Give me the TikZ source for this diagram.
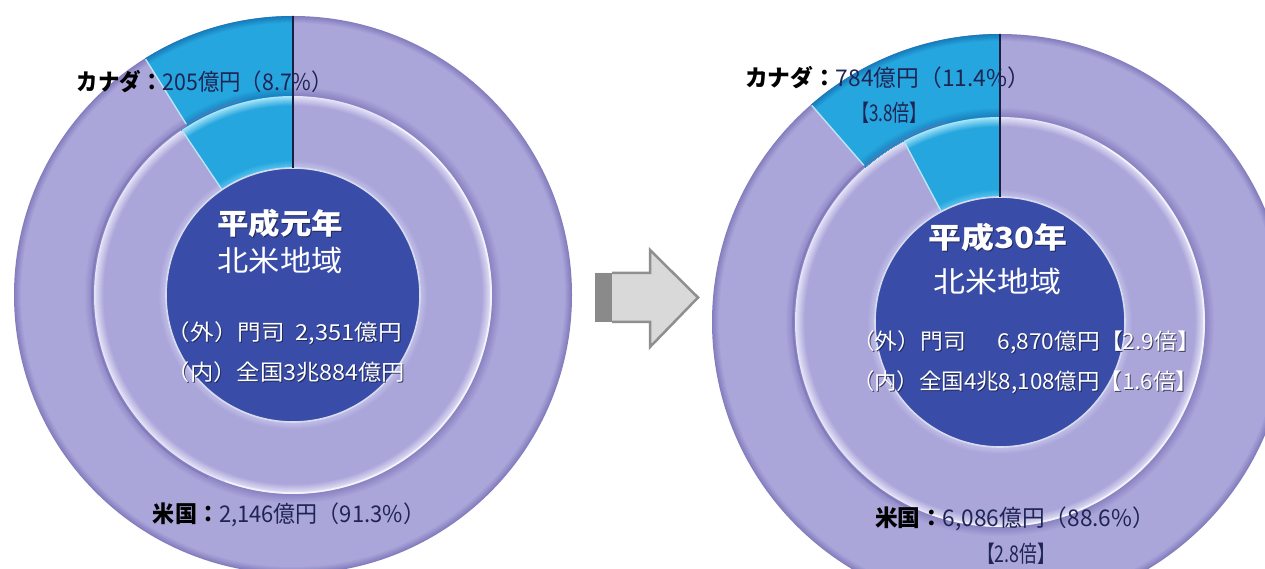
\documentclass[tikz,border=0pt]{standalone}
\usepackage{fontspec}
\usepackage{graphicx}
\newfontfamily\jp{Noto Sans CJK JP}
\usetikzlibrary{calc}
\definecolor{lav}{RGB}{170,166,218}
\definecolor{lavlight}{RGB}{196,193,234}
\definecolor{lavhi}{RGB}{228,227,247}
\definecolor{lavdark}{RGB}{118,112,180}
\definecolor{cy}{RGB}{38,166,222}
\definecolor{cylight}{RGB}{90,198,240}
\definecolor{cyhi}{RGB}{165,228,249}
\definecolor{cydark}{RGB}{18,108,176}
\definecolor{blueC}{RGB}{57,77,168}
\definecolor{navy}{RGB}{26,30,64}
\definecolor{txtnavy}{RGB}{32,36,84}
\definecolor{arrfill}{RGB}{217,217,217}
\definecolor{arrline}{RGB}{143,143,143}
\definecolor{arrdark}{RGB}{138,138,138}
\newcommand{\fitw}[2]{\resizebox{#1}{\height}{#2}}
% bevelled double ring: #1 colour prefix, #2 centre, #3 R1, #4 R2, #5 R3
\newcommand{\ringbands}[5]{%
  \foreach \k in {0,...,7}{\pgfmathsetmacro\p{25+75*\k/7}\fill[#1!\p!#1dark] (#2) circle[radius=#3-\k];}
  \foreach \k in {10,9,...,0}{\pgfmathsetmacro\p{30+70*\k/10}\fill[#1!\p!#1dark] (#2) circle[radius=#4+\k];}
  \fill[#1hi] (#2) circle[radius=#4];
  \foreach \k in {0,...,8}{\pgfmathsetmacro\p{15+85*\k/8}\fill[#1!\p!#1hi] (#2) circle[radius=#4-1.5-\k];}
  \foreach \k in {8,7,...,0}{\pgfmathsetmacro\p{100*\k/8}\fill[#1!\p!#1light] (#2) circle[radius=#5+\k];}}
\begin{document}
\begin{tikzpicture}[x=1pt,y=1pt,
  lbl/.style={inner sep=0pt, text=txtnavy, font=\jp\fontsize{23}{23}\selectfont},
  big/.style={inner sep=0pt, text=white, font=\jp\fontsize{29}{29}\selectfont},
  mid/.style={inner sep=0pt, text=white, font=\jp\fontsize{22}{22}\selectfont},
  shd/.style={text=navy, opacity=0.75},
  rim/.style={line width=1.6pt},
  divline/.style={navy, line width=1.6pt},
  sectedge/.style={white!70!cy, line width=1.4pt}]
\useasboundingbox (0,0) rectangle (1265,568);
\clip (0,0) rectangle (1265,568);
\fill[white] (0,0) rectangle (1265,568);

% ================= LEFT CHART =================
\coordinate (cL) at (293,273);
\ringbands{lav}{cL}{279}{199}{127}
\begin{scope}
  \clip (cL) -- +(90:330) -- +(122:330) -- cycle;
  \begin{scope}[even odd rule]
    \clip (cL) circle[radius=280] (cL) circle[radius=199];
    \ringbands{cy}{cL}{279}{199}{127}
  \end{scope}
\end{scope}
\begin{scope}
  \clip (cL) -- +(90:330) -- +(124:330) -- cycle;
  \clip (cL) circle[radius=199];
  \ringbands{cy}{cL}{279}{199}{127}
\end{scope}
\draw[sectedge] ($(cL)+(122:201)$) -- ($(cL)+(122:278)$);
\draw[sectedge] ($(cL)+(124:128)$) -- ($(cL)+(124:198)$);
\draw[lavdark, rim, opacity=.5] ($(cL)+(105:201)$) arc[start angle=105, end angle=245, radius=201];
\draw[white, rim, opacity=.6] ($(cL)+(-110:198)$) arc[start angle=-110, end angle=60, radius=198];
\fill[blueC] (cL) circle[radius=127];
\draw[white!80!blueC, line width=1.6pt] (cL) circle[radius=127];
\draw[divline] ($(cL)+(90:279)$) -- ($(cL)+(90:127)$);

\node[lbl] (canL) at (205,486) {\fitw{256pt}{\textbf{\color{black}カナダ：}205億円（8.7\%）}};
\node[big, shd] (yrLs) at (281,344) {\fitw{126pt}{\textbf{平成元年}}};
\node[big] (yrL) at (280,345) {\fitw{126pt}{\textbf{平成元年}}};
\node[big] (nbL) at (280,308) {\fitw{125pt}{北米地域}};
\node[mid, shd] (gaiLs) at (285.5,234) {\fitw{235pt}{（外）門司\hspace{0.45em}2,351億円}};
\node[mid] (gaiL) at (284.5,235) {\fitw{235pt}{（外）門司\hspace{0.45em}2,351億円}};
\node[mid, shd] (naiLs) at (287,195) {\fitw{238pt}{（内）全国3兆884億円}};
\node[mid] (naiL) at (286,196) {\fitw{238pt}{（内）全国3兆884億円}};
\node[lbl] (usL) at (289,53) {\fitw{272pt}{\textbf{\color{black}米国：}2,146億円（91.3\%）}};

% ================= ARROW =================
\fill[arrfill] (595,295) -- (650,295) -- (650,318) -- (698,270.5) -- (650,221) -- (650,246) -- (595,246) -- cycle;
\fill[arrdark] (595,246) rectangle (612,295);
\draw[arrline, line width=2.5pt, line join=miter] (612,295) -- (650,295) -- (650,318) -- (698,270.5) -- (650,221) -- (650,246) -- (612,246);

% ================= RIGHT CHART =================
\coordinate (cR) at (1000,246);
\ringbands{lav}{cR}{288}{205}{125}
\begin{scope}
  \clip (cR) -- +(90:340) -- +(131:340) -- cycle;
  \begin{scope}[even odd rule]
    \clip (cR) circle[radius=289] (cR) circle[radius=205];
    \ringbands{cy}{cR}{288}{205}{125}
  \end{scope}
\end{scope}
\begin{scope}
  \clip (cR) -- +(90:340) -- +(118:340) -- cycle;
  \clip (cR) circle[radius=205];
  \ringbands{cy}{cR}{288}{205}{125}
\end{scope}
\draw[sectedge] ($(cR)+(131:207)$) -- ($(cR)+(131:287)$);
\draw[sectedge] ($(cR)+(118:126)$) -- ($(cR)+(118:204)$);
\draw[lavdark, rim, opacity=.5] ($(cR)+(105:207)$) arc[start angle=105, end angle=245, radius=207];
\draw[white, rim, opacity=.6] ($(cR)+(-110:204)$) arc[start angle=-110, end angle=60, radius=204];
\fill[blueC] (cR) circle[radius=125];
\draw[white!80!blueC, line width=1.6pt] (cR) circle[radius=125];
\draw[divline] ($(cR)+(90:288)$) -- ($(cR)+(90:125)$);

\node[lbl] (canR) at (887.5,490) {\fitw{285pt}{\textbf{\color{black}カナダ：}784億円（11.4\%）}};
\node[lbl] (x38) at (889.5,455) {\fitw{75pt}{【3.8倍】}};
\node[big, shd] (yrRs) at (999,330) {\fitw{139pt}{\textbf{平成30年}}};
\node[big] (yrR) at (998,331) {\fitw{139pt}{\textbf{平成30年}}};
\node[big] (nbR) at (997,287) {\fitw{128pt}{北米地域}};
\node[mid, shd] (gaiRs) at (1027,225) {\fitw{348pt}{（外）門司\hspace{1.4em}6,870億円【2.9倍】}};
\node[mid] (gaiR) at (1026,226) {\fitw{348pt}{（外）門司\hspace{1.4em}6,870億円【2.9倍】}};
\node[mid, shd] (naiRs) at (1026,185) {\fitw{346pt}{（内）全国4兆8,108億円【1.6倍】}};
\node[mid] (naiR) at (1025,186) {\fitw{346pt}{（内）全国4兆8,108億円【1.6倍】}};
\node[lbl] (usR) at (1015,49) {\fitw{280pt}{\textbf{\color{black}米国：}6,086億円（88.6\%）}};
\node[lbl] (x28) at (1016,14) {\fitw{78pt}{【2.8倍】}};
\end{tikzpicture}
\end{document}
